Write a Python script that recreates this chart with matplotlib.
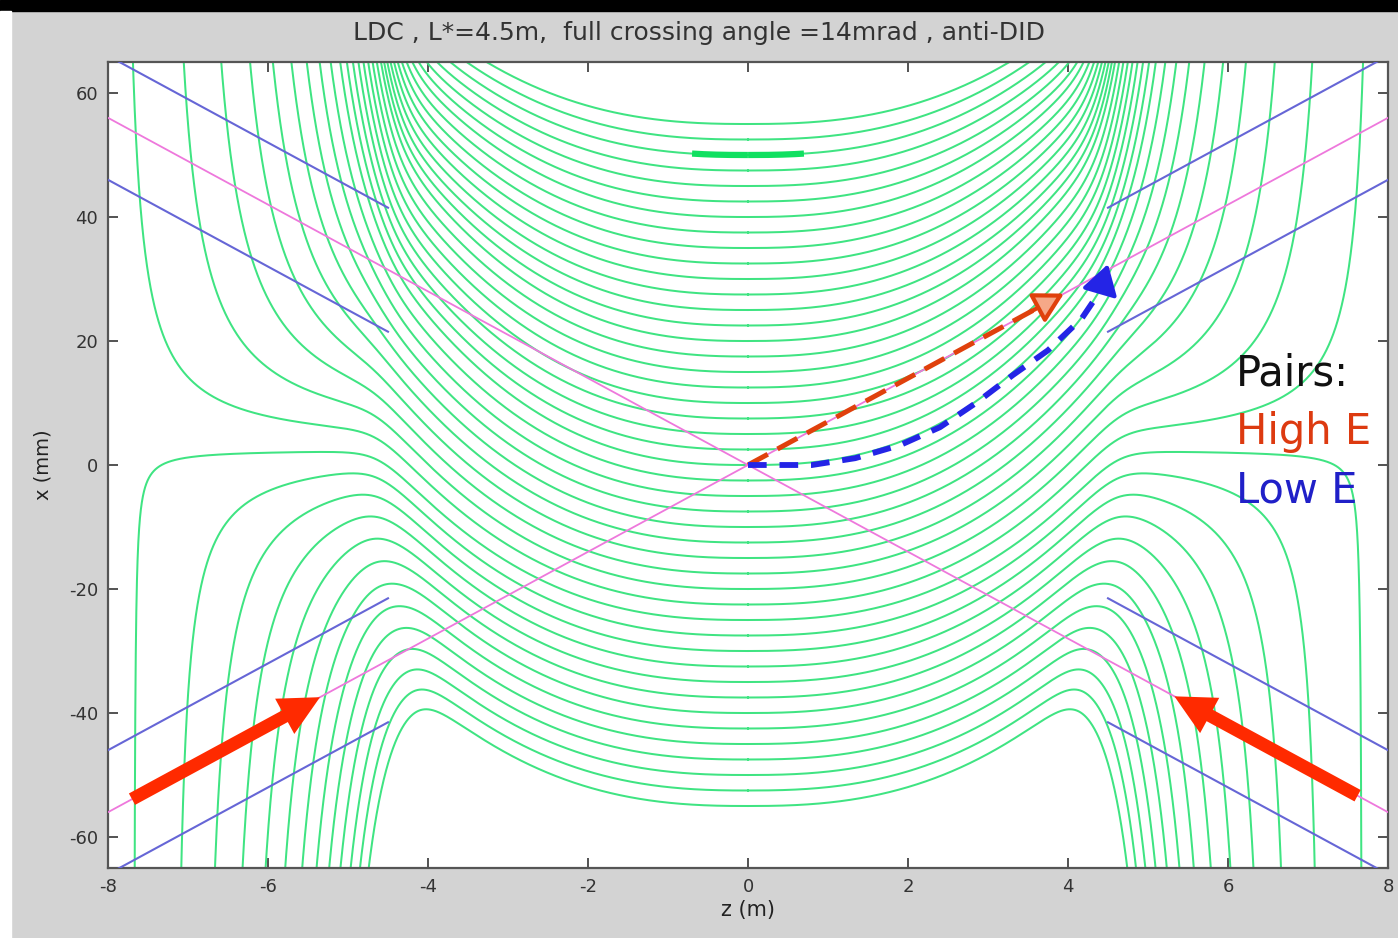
import numpy as np
import matplotlib
matplotlib.use("Agg")
import matplotlib.pyplot as plt
from matplotlib import font_manager
from matplotlib.patches import Rectangle, FancyArrowPatch

plt.rcParams["axes.unicode_minus"] = False

# ---------------- values ----------------
# field-line seeds: x (mm) of every green line at z = 0
line_x0 = [-55.0, -52.5, -50.0, -47.5, -45.0, -42.5, -40.0, -37.5, -35.0, -32.5,
           -30.0, -27.5, -25.0, -22.5, -20.0, -17.5, -15.0, -12.5, -10.0, -7.5,
           -5.0, -2.5, 0.0, 2.5, 5.0, 7.5, 10.0, 12.5, 15.0, 17.5,
           20.0, 22.5, 25.0, 27.5, 30.0, 32.5, 35.0, 37.5, 40.0, 42.5,
           45.0, 47.5, 50.0, 52.5, 55.0]
highlight_x0 = 50.0          # the line drawn bright near z = 0
highlight_halfwidth = 0.7    # m

# anti-DID bending of the lines inside the detector (rise in mm ~ coef * |z|^pow)
p_coef, p_pow, p_sat, p_soft = 0.75, 2.5, 4.6, 0.15
# relative rise of a line versus its seed
w_knot_x0 = [-55.0, -40.0, -25.0, -10.0, 0.0, 20.0, 40.0, 55.0]
w_knot_val = [0.72, 0.78, 0.80, 0.92, 1.00, 1.00, 0.85, 0.69]
# z (m) where the fringe fan-out of each line starts
zs_knot_x0 = [-55.0, -40.0, -27.5, -25.0]
zs_knot_val = [4.15, 4.25, 4.40, 4.45]
fan_soft = 0.15
# fan-out outside the solenoid
x_sep = 2.5                  # mm, dividing line between up/down going lines
fan_a_up, fan_a_down, fan_b = 3.4, 3.8, 17.5

# beam lines (full crossing angle 14 mrad)
beam_slope = 7.0             # mm per m
aperture_half = 10.0         # mm
aperture_start = 4.5         # m

# big red arrows (incoming beams), z of tail and head
in_left_z = (-7.70, -5.35)
in_right_z = (7.62, 5.33)
# high energy pairs (follow outgoing beam)
highE_z = (0.0, 3.95)
# low energy pairs path
lowE_z = [0.0, 0.8, 1.34, 1.9, 2.4, 2.86, 3.31, 3.75, 4.17, 4.40]
lowE_x = [0.0, 0.0, 1.1, 3.2, 6.1, 10.1, 14.5, 18.5, 23.6, 28.0]
lowE_tip = (4.50, 32.4)

xticks = [-8, -6, -4, -2, 0, 2, 4, 6, 8]
yticks = [-60, -40, -20, 0, 20, 40, 60]

title = "LDC , L*=4.5m,  full crossing angle =14mrad , anti-DID"

# ---------------- fonts ----------------
installed = {f.name for f in font_manager.fontManager.ttflist}
if "Liberation Sans Narrow" in installed:
    title_font, title_size = "Liberation Sans Narrow", 21
else:
    title_font, title_size = "DejaVu Sans", 18

# ---------------- figure ----------------
W, H = 1398, 938
fig = plt.figure(figsize=(W / 100, H / 100), dpi=100, facecolor="#d3d3d3")
fig.patches.append(Rectangle((0, 1 - 11 / H), 1, 11 / H, transform=fig.transFigure,
                             color="black", zorder=0))
fig.patches.append(Rectangle((0, 0), 11 / W, 1 - 11 / H, transform=fig.transFigure,
                             color="white", zorder=0))

ax = fig.add_axes([108 / W, 70 / H, 1280 / W, 806 / H])
ax.set_facecolor("white")

green = "#3fe482"
z = np.linspace(-8, 8, 16001)
az = np.abs(z)


def softmin_z(a):
    return p_sat - p_soft * np.logaddexp(0, (p_sat - a) / p_soft)


P = p_coef * softmin_z(az) ** p_pow

for x0 in line_x0:
    w = np.interp(x0, w_knot_x0, w_knot_val)
    zs = np.interp(x0, zs_knot_x0, zs_knot_val)
    xc = x0 + w * P
    d = x0 + w * p_coef * softmin_z(zs) ** p_pow - x_sep
    fan_a = fan_a_up if d > 0 else fan_a_down
    span = fan_a / (1 + abs(d) / fan_b)
    u = fan_soft * np.logaddexp(0, (az - zs) / fan_soft) / span
    with np.errstate(divide="ignore", invalid="ignore"):
        G = np.where(u < 1, 1.0 / (1.0 - u), np.nan)
    x = x_sep + (xc - x_sep) * G
    x = np.clip(x, -400, 400)
    ax.plot(z, x, color=green, lw=1.45, zorder=2)
    if x0 == highlight_x0:
        m = az <= highlight_halfwidth
        ax.plot(z[m], x[m], color="#10e060", lw=4.5, zorder=2.5, solid_capstyle="butt")

# beam lines
zl = np.array([-8.0, 8.0])
pink = "#ee78dc"
ax.plot(zl, beam_slope * zl, color=pink, lw=1.3, zorder=3)
ax.plot(zl, -beam_slope * zl, color=pink, lw=1.3, zorder=3)
blue_l = "#6666d6"
for side in (-1, 1):
    za = np.array([aperture_start, 8.0]) * side
    for sgn in (1, -1):
        for off in (aperture_half, -aperture_half):
            ax.plot(za, sgn * beam_slope * za + off, color=blue_l, lw=1.5, zorder=3)

# incoming beam arrows
red = "#ff2a00"
for zt, zh, s in ((in_left_z[0], in_left_z[1], 1), (in_right_z[0], in_right_z[1], -1)):
    arr = FancyArrowPatch((zt, s * beam_slope * zt), (zh, s * beam_slope * zh),
                          arrowstyle="simple,head_length=1.7,head_width=1.7,tail_width=0.55",
                          mutation_scale=17, color=red, lw=0, zorder=6,
                          shrinkA=0, shrinkB=0)
    ax.add_patch(arr)

# high energy pairs
hz = np.array(highE_z)
orange = "#e0400c"
z_end_dash = hz[1] - 0.35
ax.plot([hz[0], z_end_dash], beam_slope * np.array([hz[0], z_end_dash]),
        color=orange, lw=3.6, dashes=(4.5, 2.2), zorder=5)
head = FancyArrowPatch((z_end_dash - 0.05, beam_slope * (z_end_dash - 0.05)),
                       (hz[1], beam_slope * hz[1]),
                       arrowstyle="-|>,head_length=0.9,head_width=0.5",
                       mutation_scale=20, color=orange, fc="#f6a888", lw=3,
                       shrinkA=0, shrinkB=0, zorder=5)
ax.add_patch(head)

# low energy pairs
blue = "#2424e6"
ax.plot(lowE_z, lowE_x, color=blue, lw=4.2, dashes=(3.2, 2.2), zorder=5)
headb = FancyArrowPatch((lowE_z[-1], lowE_x[-1]), lowE_tip,
                        arrowstyle="-|>,head_length=0.9,head_width=0.55",
                        mutation_scale=20, color=blue, lw=3,
                        shrinkA=0, shrinkB=0, zorder=5)
ax.add_patch(headb)

# legend text
ax.text(6.1, 12.9, "Pairs:", fontsize=30, color="#111111", zorder=7)
ax.text(6.1, 3.4, "High E", fontsize=30, color="#dd3a10", zorder=7)
ax.text(6.1, -6.0, "Low E", fontsize=30, color="#2020c8", zorder=7)

ax.set_xlim(-8, 8)
ax.set_ylim(-65, 65)
ax.set_xticks(xticks)
ax.set_yticks(yticks)
ax.tick_params(direction="in", top=True, right=True, length=7, width=1.3,
               labelsize=13, labelcolor="#333333", color="#444444", pad=7)
for sp in ax.spines.values():
    sp.set_color("#555555")
    sp.set_linewidth(1.6)
ax.set_xlabel("z (m)", fontsize=15, color="#222222", labelpad=3)
ax.set_ylabel("x (mm)", fontsize=14, color="#222222", labelpad=12)
fig.text(0.5, 1 - 33 / H, title, ha="center", va="center", fontsize=title_size,
         family=title_font, color="#333333")

fig.savefig("out.png", dpi=100, facecolor=fig.get_facecolor())
